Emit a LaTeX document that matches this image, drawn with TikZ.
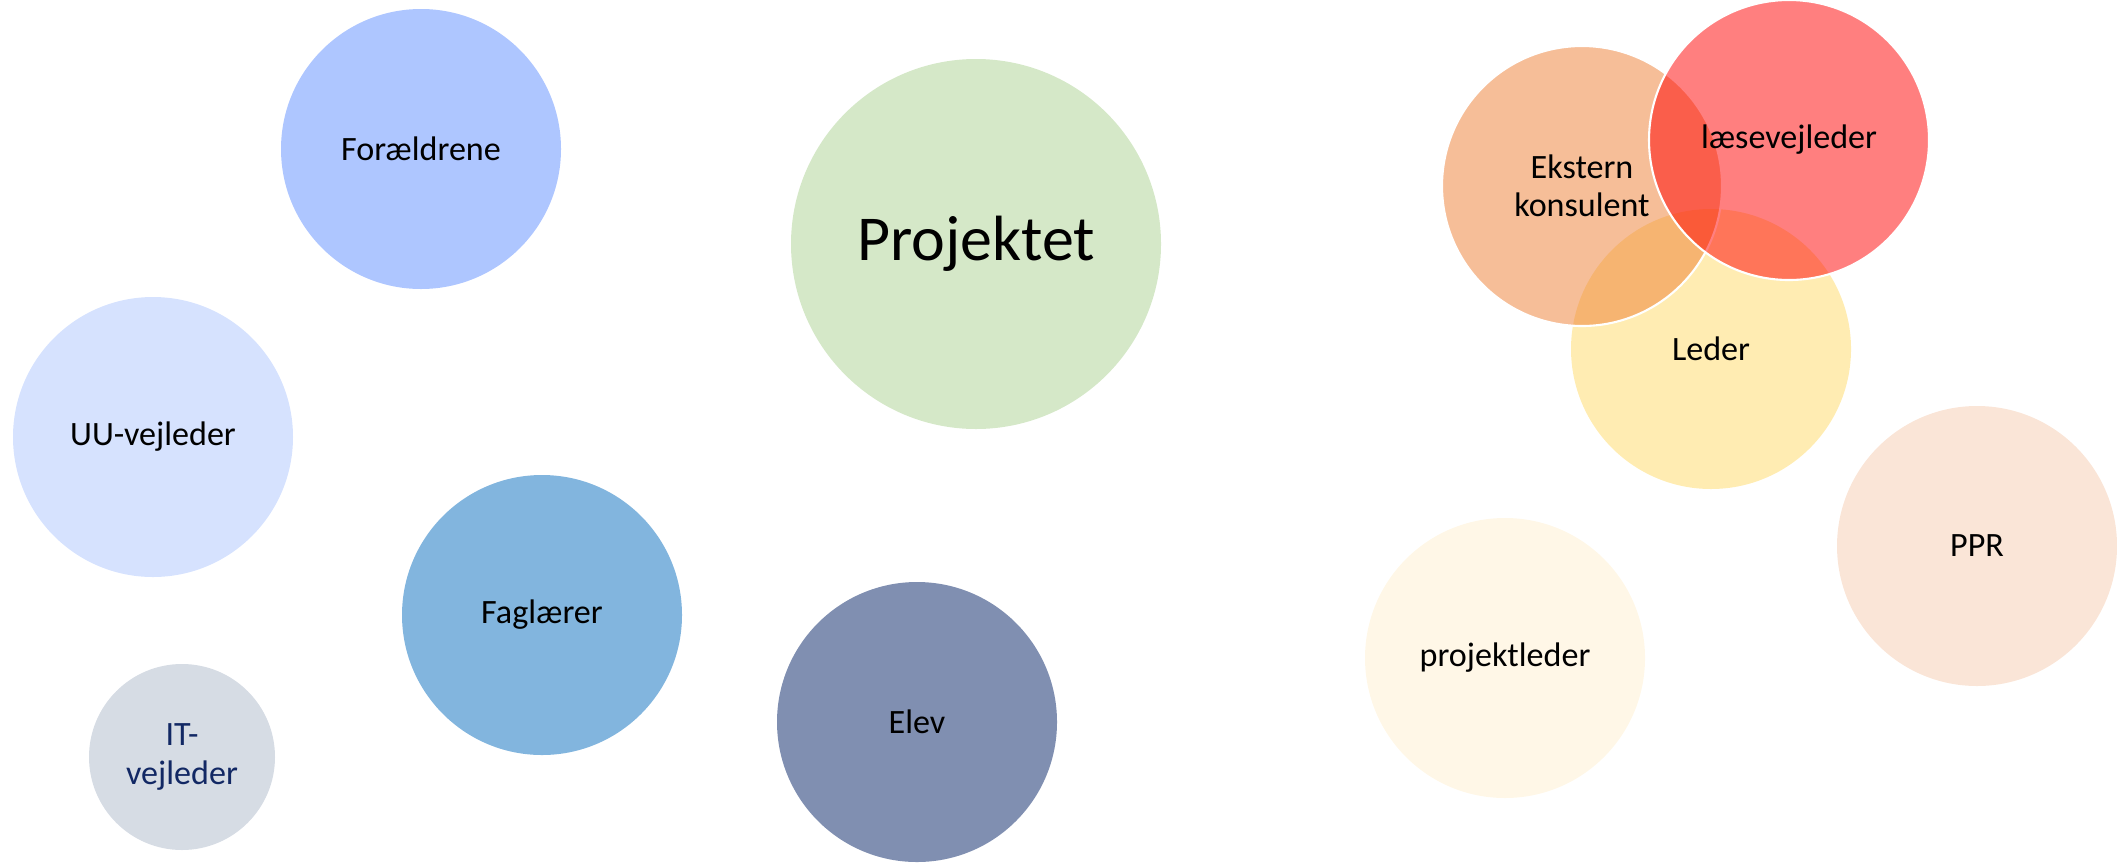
\documentclass[tikz,border=0pt]{standalone}
\usepackage{fontspec}
\setmainfont{Carlito}
\definecolor{cForaeldre}{RGB}{174,198,255}
\definecolor{cProjekt}{RGB}{213,232,200}
\definecolor{cUU}{RGB}{214,226,254}
\definecolor{cFag}{RGB}{130,181,222}
\definecolor{cIT}{RGB}{214,220,228}
\definecolor{cITtext}{RGB}{18,40,100}
\definecolor{cElev}{RGB}{128,143,177}
\definecolor{cOrange}{RGB}{237,125,49}
\definecolor{cRed}{RGB}{255,0,0}
\definecolor{cGold}{RGB}{255,192,0}
\definecolor{cProjleder}{RGB}{255,247,231}
\definecolor{cPPR}{RGB}{250,229,215}
\tikzset{
  bubble/.style={circle, minimum size=2.8cm, inner sep=0pt, align=center,
    font=\fontsize{9.7}{10.9}\selectfont, text=black},
  bigbubble/.style={bubble, minimum size=3.7cm, font=\fontsize{18.2}{20}\selectfont},
  smallbubble/.style={bubble, minimum size=1.86cm},
  seethrough/.style={fill opacity=0.5, text opacity=1, draw=white, draw opacity=1, line width=0.6pt}
}
\begin{document}
\begin{tikzpicture}
\useasboundingbox (0,0) rectangle (21.17,8.62);
\node[bubble, fill=cForaeldre] (foraeldre) at (4.21,7.13) {Forældrene};
\node[bigbubble, fill=cProjekt] (projekt) at (9.76,6.18) {Projektet};
\node[bubble, fill=cUU] (uu) at (1.53,4.25) {UU-vejleder};
\node[bubble, fill=cFag] (fag) at (5.42,2.47) {Faglærer};
\node[smallbubble, fill=cIT, text=cITtext] (it) at (1.82,1.05) {IT-\\vejleder};
\node[bubble, fill=cElev] (elev) at (9.17,1.40) {Elev};
\node[bubble, fill=cProjleder] (projleder) at (15.05,2.04) {projektleder};
\node[bubble, fill=cPPR] (ppr) at (19.77,3.16) {PPR};
\node[bubble, fill=cGold, fill opacity=0.3, text opacity=1] (leder) at (17.11,5.13) {Leder};
\node[bubble, fill=cOrange, seethrough] (ekstern) at (15.82,6.76) {Ekstern\\konsulent};
\node[bubble, fill=cRed, seethrough] (laese) at (17.89,7.22) {læsevejleder};
\end{tikzpicture}
\end{document}
